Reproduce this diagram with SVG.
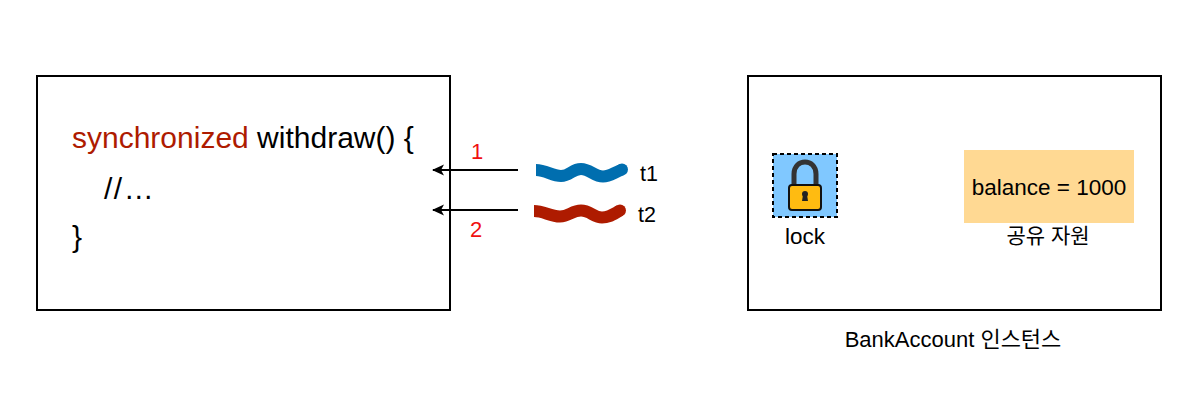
<svg xmlns="http://www.w3.org/2000/svg" width="1202" height="404" viewBox="0 0 1202 404">
<style>
text{font-family:"Liberation Sans","Noto Sans CJK KR",sans-serif;fill:#000}
.box{fill:#fff;stroke:#000;stroke-width:2}
.code{font-size:30px}
.lbl{font-size:22.500px}
.num{font-size:22px;fill:#f01010}
.conn{fill:none;stroke:#000;stroke-width:2;marker-end:url(#ah)}
.wave{fill:none;stroke-width:12;stroke-linecap:butt}
</style>
<defs><marker id="ah" markerUnits="userSpaceOnUse" markerWidth="14" markerHeight="14" refX="11" refY="6" orient="auto"><path d="M12 6L0 0.500L3 6L0 11.500Z" fill="#000"/></marker></defs>
<rect width="1202" height="404" fill="#fff"/>
<g id="method">
<rect class="box" x="37" y="76" width="413" height="234"/>
<text class="code" x="72" y="148"><tspan fill="#ae1b00">synchronized</tspan> withdraw() {</text>
<text class="code" x="104" y="199" letter-spacing="1.500">//…</text>
<text class="code" x="72" y="247">}</text>
</g>
<g id="connectors">
<path class="conn" d="M518 170H433"/>
<path class="conn" d="M518 210H433"/>
</g>
<text class="num" x="471" y="159">1</text>
<text class="num" x="470" y="237">2</text>
<g id="t1">
<path class="wave" d="M536 170C546 170 552 176 561 176C570 176 572 169 581 169C590 169 594 176.500 603 176.500C610 176.500 613 173 622 169.500" stroke="#006eaf"/>
<circle cx="622" cy="169.500" r="6" fill="#006eaf"/>
<text class="lbl" style="font-size:21.500px" x="640" y="181">t1</text>
</g>
<g id="t2">
<path class="wave" d="M534 211C544 211 550 216.500 560 216.500C569 216.500 572 210.500 581 210.500C590 210.500 594 217.500 602 217.500C609 217.500 612 215 620 210.500" stroke="#ae1b00"/>
<circle cx="620" cy="210.500" r="6" fill="#ae1b00"/>
<text class="lbl" style="font-size:21.500px" x="638" y="222">t2</text>
</g>
<g id="account">
<rect class="box" x="748" y="76" width="413" height="234"/>
</g>
<g id="lock">
<rect x="773" y="154" width="64" height="63" fill="#80c8ff" stroke="#000" stroke-width="2" stroke-dasharray="4 3"/>
<path d="M794 186V174C794 158 816 158 816 174V186" fill="none" stroke="#333" stroke-width="5"/>
<rect x="789" y="185" width="32" height="25" rx="3" fill="#ffbb11" stroke="#111" stroke-width="2"/>
<circle cx="805" cy="194" r="3" fill="#222"/><path d="M803 195H807L808 201H802Z" fill="#222"/>
<text class="lbl" x="805" y="244" text-anchor="middle">lock</text>
</g>
<g id="balance">
<rect x="964" y="150" width="170" height="73" fill="#ffd993"/>
<text class="lbl" x="1049" y="195" text-anchor="middle">balance = 1000</text>
<text class="lbl" x="1048" y="243" text-anchor="middle" style="font-size:21px">공유 자원</text>
</g>
<text class="lbl" x="953" y="347" text-anchor="middle" style="font-size:22px">BankAccount 인스턴스</text>
</svg>
